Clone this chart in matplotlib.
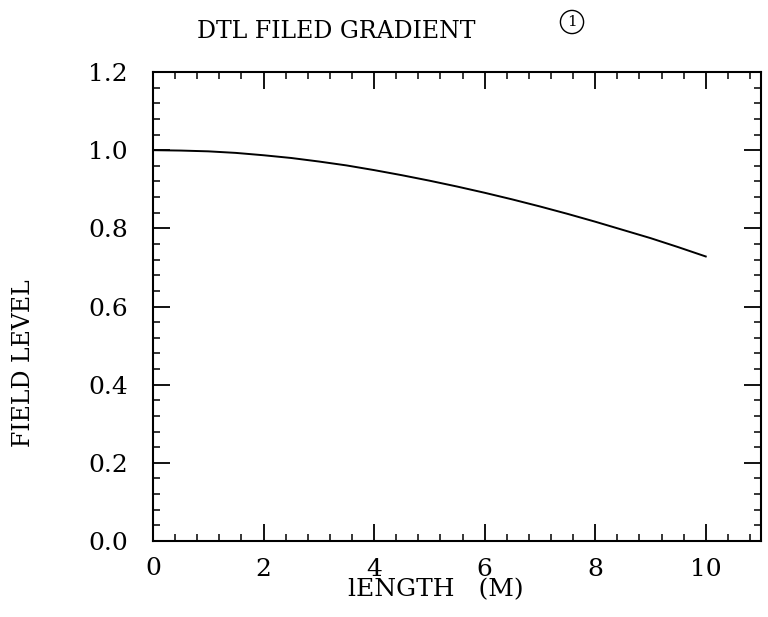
import matplotlib
matplotlib.use("Agg")
import matplotlib.pyplot as plt
from matplotlib.ticker import MultipleLocator, FixedLocator

# values
length_m = [0, 0.5, 1, 1.5, 2, 2.5, 3, 3.5, 4, 4.5, 5, 5.5, 6, 6.5, 7, 7.5, 8, 8.5, 9, 9.5, 10]
field_level = [1.0, 0.999, 0.997, 0.993, 0.987, 0.980, 0.971, 0.961, 0.949, 0.936,
               0.922, 0.907, 0.891, 0.874, 0.856, 0.837, 0.817, 0.796, 0.775, 0.752, 0.728]

x_major = [2, 4, 6, 8, 10]
x_labels = ["2", "4", "6", "8", "10"]

plt.rcParams["font.family"] = ["DejaVu Serif"]

fig = plt.figure(figsize=(7.68, 6.17), dpi=100)
ax = fig.add_axes([153 / 768, 1 - 541 / 617, 608 / 768, 469 / 617])

ax.plot(length_m, field_level, color="black", linewidth=1.4)

ax.set_xlim(0, 11)
ax.set_ylim(0, 1.2)

ax.xaxis.set_major_locator(FixedLocator(x_major))
ax.xaxis.set_minor_locator(MultipleLocator(0.4))
ax.yaxis.set_major_locator(MultipleLocator(0.2))
ax.yaxis.set_minor_locator(MultipleLocator(0.04))
ax.set_xticklabels(x_labels)
ax.set_yticklabels([f"{v:.1f}" for v in ax.get_yticks()])

ax.tick_params(which="both", direction="in", top=True, right=True, color="black")
ax.tick_params(which="major", length=12, width=1.3, labelsize=18)
ax.tick_params(which="minor", length=5, width=1.1)
ax.tick_params(axis="x", pad=12)
ax.tick_params(axis="y", pad=18)
for s in ax.spines.values():
    s.set_linewidth(1.5)

# the x=0 label sits at the corner, with no major tick there
ax.annotate("0", xy=(0, 0), xytext=(0, -16), textcoords="offset pixels",
            ha="center", va="top", fontsize=18)

fig.text(336 / 768, 1 - 32 / 617, "DTL FILED GRADIENT", ha="center", va="center", fontsize=17)
fig.text(572 / 768, 1 - 22 / 617, "1", ha="center", va="center", fontsize=11,
         bbox=dict(boxstyle="circle,pad=0.3", fc="none", ec="black", lw=1.0))
fig.text(436 / 768, 1 - 590 / 617, "lENGTH   (M)", ha="center", va="center", fontsize=18)
fig.text(24 / 768, 1 - 363 / 617, "FIELD LEVEL", ha="center", va="center", rotation=90, fontsize=17)

fig.savefig("out.png", dpi=100)
